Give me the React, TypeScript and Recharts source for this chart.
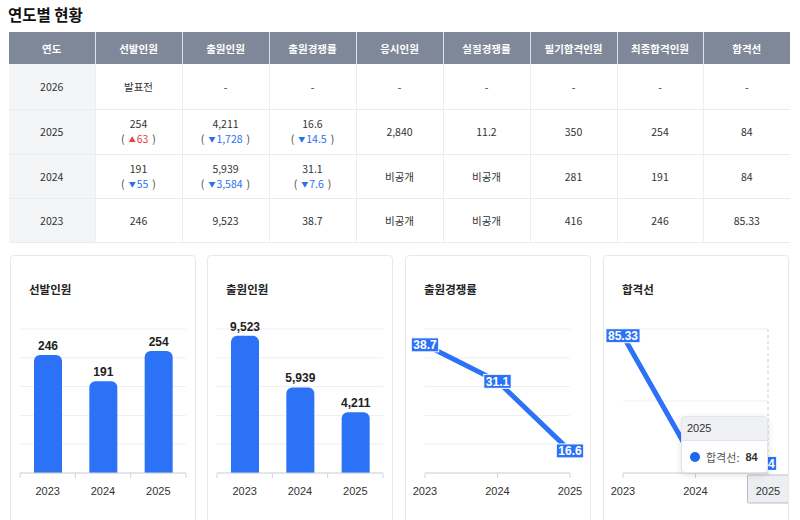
import {
  Bar,
  BarChart,
  CartesianGrid,
  LabelList,
  Line,
  LineChart,
  Tooltip,
  XAxis,
  YAxis,
} from "recharts";

// chart series (oldest -> newest)
const chartYears = ["2023", "2024", "2025"];
const selectedCounts = [246, 191, 254];
const applicantCounts = [9523, 5939, 4211];
const applicantRatios = [38.7, 31.1, 16.6];
const cutoffScores = [85.33, 84, 84];

const selectedTicks = [0, 60, 120, 180, 240, 300];
const applicantTicks = [0, 2000, 4000, 6000, 8000, 10000];
const ratioTicks = [12, 18, 24, 30, 36, 42];
const cutoffTicks = [83.9, 84.65, 85.4];

// table (newest -> oldest)
const tableHeaders = [
  "연도",
  "선발인원",
  "출원인원",
  "출원경쟁률",
  "응시인원",
  "실질경쟁률",
  "필기합격인원",
  "최종합격인원",
  "합격선",
];
const tableYears = ["2026", "2025", "2024", "2023"];
const tableSelected = ["발표전", "254", "191", "246"];
const tableSelectedDiff = [null, 63, -55, null];
const tableApplicants = ["-", "4,211", "5,939", "9,523"];
const tableApplicantsDiff = [null, -1728, -3584, null];
const tableRatio = ["-", "16.6", "31.1", "38.7"];
const tableRatioDiff = [null, -14.5, -7.6, null];
const tableExaminees = ["-", "2,840", "비공개", "비공개"];
const tableRealRatio = ["-", "11.2", "비공개", "비공개"];
const tableWrittenPass = ["-", "350", "281", "416"];
const tableFinalPass = ["-", "254", "191", "246"];
const tableCutoff = ["-", "84", "84", "85.33"];

const BLUE = "#2b72f6";
const UP = "#e8403c";
const DOWN = "#2a6ff0";
const AXIS = "#cfd3d9";
const GRID = "#eeeff1";
const KR = "'Noto Sans CJK KR', 'Noto Sans', sans-serif";
const NUM = "'Liberation Sans', Arial, 'Noto Sans CJK KR', sans-serif";

const CHART_W = 184;
const CHART_H = 260;
const TICK_SIZE = 5;
const TICK_MARGIN = 9;
const BAR_MARGIN = { top: 73, right: 9, bottom: 13, left: 9 };
const LINE_MARGIN = { top: 73, right: 20, bottom: 13, left: 19 };

const columnWidths = [86, 87, 87, 87, 87, 87, 87, 86, 87];
const rowHeights = [45, 45, 44, 44];

function Diff({ value }: { value: number | null }) {
  if (value === null) return null;
  const up = value > 0;
  return (
    <div style={{ lineHeight: "15px" }}>
      <span style={{ color: "#444" }}>(</span>
      <span style={{ color: up ? UP : DOWN, margin: "0 4px" }}>
        <span style={{ fontSize: 7, verticalAlign: 1, marginRight: 1 }}>{up ? "▲" : "▼"}</span>
        {Math.abs(value).toLocaleString("en-US")}
      </span>
      <span style={{ color: "#444" }}>)</span>
    </div>
  );
}

function Cell({ text, diff }: { text: string; diff?: number | null }) {
  return (
    <>
      <div style={{ lineHeight: "15px" }}>{text}</div>
      {diff !== undefined && diff !== null && <Diff value={diff} />}
    </>
  );
}

function StatsTable() {
  const th = (i: number) => ({
    background: "#7e8898",
    color: "#fff",
    fontWeight: 700,
    height: 32,
    padding: 0,
    borderRight: i < tableHeaders.length - 1 ? "1px solid rgba(255,255,255,0.75)" : "none",
  });
  const td = (i: number) => ({
    padding: 0,
    textAlign: "center" as const,
    background: i === 0 ? "#f4f5f7" : "#fff",
    borderBottom: "1px solid #e9ebee",
    borderRight: i < tableHeaders.length - 1 ? "1px solid #eceef1" : "none",
    color: "#333",
  });
  return (
    <table
      style={{
        position: "absolute",
        left: 9,
        top: 32,
        width: 781,
        borderCollapse: "collapse",
        tableLayout: "fixed",
        fontFamily: KR,
        fontSize: 10.5,
      }}
    >
      <colgroup>
        {columnWidths.map((w, i) => (
          <col key={i} style={{ width: w }} />
        ))}
      </colgroup>
      <thead>
        <tr>
          {tableHeaders.map((h, i) => (
            <th key={h} style={th(i)}>
              {h}
            </th>
          ))}
        </tr>
      </thead>
      <tbody>
        {tableYears.map((year, r) => {
          const cells = [
            { text: year },
            { text: tableSelected[r], diff: tableSelectedDiff[r] },
            { text: tableApplicants[r], diff: tableApplicantsDiff[r] },
            { text: tableRatio[r], diff: tableRatioDiff[r] },
            { text: tableExaminees[r] },
            { text: tableRealRatio[r] },
            { text: tableWrittenPass[r] },
            { text: tableFinalPass[r] },
            { text: tableCutoff[r] },
          ];
          return (
            <tr key={year} style={{ height: rowHeights[r] }}>
              {cells.map((c, i) => (
                <td key={i} style={td(i)}>
                  <Cell text={c.text} diff={c.diff} />
                </td>
              ))}
            </tr>
          );
        })}
      </tbody>
    </table>
  );
}

function cardStyle(left: number) {
  return {
    position: "absolute" as const,
    left,
    top: 255,
    width: 186,
    height: 280,
    boxSizing: "border-box" as const,
    border: "1px solid #e6e8eb",
    borderRadius: 4,
    background: "#fff",
  };
}

const cardTitle = {
  position: "absolute" as const,
  left: 18,
  top: 25,
  lineHeight: "16px",
  fontFamily: KR,
  fontSize: 11.5,
  fontWeight: 700,
  color: "#222",
  zIndex: 1,
};

// bar chart tick: label at band centre, tick marks on band edges
function BandTick(props: any) {
  const { x, y, payload, index } = props;
  const axisY = y - TICK_SIZE - TICK_MARGIN;
  const half = (CHART_W - BAR_MARGIN.left - BAR_MARGIN.right) / chartYears.length / 2;
  return (
    <g>
      <line x1={x - half} x2={x - half} y1={axisY} y2={axisY + TICK_SIZE} stroke={AXIS} />
      {index === chartYears.length - 1 && (
        <line x1={x + half} x2={x + half} y1={axisY} y2={axisY + TICK_SIZE} stroke={AXIS} />
      )}
      <text x={x} y={y} dy="0.71em" textAnchor="middle" fill="#333" fontSize={11} fontFamily={NUM}>
        {payload.value}
      </text>
    </g>
  );
}

function BarCard({
  left,
  title,
  values,
  ticks,
}: {
  left: number;
  title: string;
  values: number[];
  ticks: number[];
}) {
  const data = chartYears.map((year, i) => ({ year, value: values[i] }));
  return (
    <div style={cardStyle(left)}>
      <div style={cardTitle}>{title}</div>
      <BarChart width={CHART_W} height={CHART_H} data={data} margin={BAR_MARGIN}>
        <CartesianGrid vertical={false} stroke={GRID} />
        <YAxis hide domain={[ticks[0], ticks[ticks.length - 1]]} ticks={ticks} />
        <XAxis
          dataKey="year"
          interval={0}
          height={30}
          tickSize={TICK_SIZE}
          tickMargin={TICK_MARGIN}
          tickLine={false}
          axisLine={{ stroke: AXIS }}
          tick={<BandTick />}
        />
        <Bar dataKey="value" fill={BLUE} barSize={28} radius={[6, 6, 0, 0]} isAnimationActive={false}>
          <LabelList
            dataKey="value"
            position="top"
            offset={5}
            formatter={(v: any) => Number(v).toLocaleString("en-US")}
            fill="#222"
            fontSize={12}
            fontWeight={700}
            fontFamily={NUM}
          />
        </Bar>
      </BarChart>
    </div>
  );
}

function textWidth(text: string) {
  let w = 0;
  for (const ch of text) w += ch === "." || ch === "," ? 3.3 : 6.7;
  return w;
}

function BoxLabel(props: any) {
  const { x, y, value } = props;
  const text = String(value);
  const w = textWidth(text) + 4;
  return (
    <g>
      <rect x={x - w / 2} y={y - 7} width={w} height={14} fill={BLUE} stroke="#fff" strokeWidth={1} />
      <text
        x={x}
        y={y}
        dy="0.36em"
        textAnchor="middle"
        fill="#fff"
        fontSize={12}
        fontWeight={700}
        fontFamily={NUM}
      >
        {text}
      </text>
    </g>
  );
}

const cutoffActive = 2;

function PointTick(props: any) {
  const { x, y, payload, index, highlight } = props;
  const axisY = y - TICK_SIZE - TICK_MARGIN;
  const on = highlight && index === cutoffActive;
  return (
    <g>
      {on && (
        <rect
          x={x - 20.5}
          y={axisY + 2}
          width={41}
          height={28}
          fill="#eceef1"
          stroke="#b9bec6"
          strokeWidth={1}
          rx={1}
        />
      )}
      <text x={x} y={y} dy="0.71em" textAnchor="middle" fill="#333" fontSize={11} fontFamily={NUM}>
        {payload.value}
      </text>
    </g>
  );
}

function CutoffTooltip({ active, payload, label }: any) {
  if (!active || !payload || !payload.length) return null;
  const p = payload[0];
  return (
    <div
      style={{
        width: 87,
        boxSizing: "border-box",
        background: "#fff",
        border: "1px solid #e1e4e8",
        borderRadius: 4,
        boxShadow: "0 2px 6px rgba(0,0,0,0.12)",
        fontFamily: KR,
        fontSize: 11,
        color: "#333",
        overflow: "hidden",
      }}
    >
      <div
        style={{
          height: 23,
          lineHeight: "23px",
          padding: "0 5px",
          background: "#eef0f3",
          borderBottom: "1px solid #e1e4e8",
          fontFamily: NUM,
        }}
      >
        {label}
      </div>
      <div style={{ height: 31, display: "flex", alignItems: "center", paddingLeft: 8 }}>
        <span
          style={{
            width: 10,
            height: 10,
            borderRadius: 5,
            background: "#1f66f5",
            display: "inline-block",
            marginRight: 6,
          }}
        />
        <span style={{ color: "#555" }}>{p.name}:</span>
        <span style={{ fontWeight: 700, marginLeft: 6, fontFamily: NUM }}>{p.value}</span>
      </div>
    </div>
  );
}

function LineCard({
  left,
  title,
  name,
  values,
  ticks,
  withTooltip,
}: {
  left: number;
  title: string;
  name: string;
  values: number[];
  ticks: number[];
  withTooltip?: boolean;
}) {
  const data = chartYears.map((year, i) => ({ year, value: values[i] }));
  return (
    <div style={cardStyle(left)}>
      <div style={cardTitle}>{title}</div>
      <LineChart width={CHART_W} height={CHART_H} data={data} margin={LINE_MARGIN}>
        <CartesianGrid vertical={false} stroke={GRID} />
        <YAxis hide domain={[ticks[0], ticks[ticks.length - 1]]} ticks={ticks} />
        <XAxis
          dataKey="year"
          interval={0}
          height={30}
          tickSize={TICK_SIZE}
          tickMargin={TICK_MARGIN}
          tickLine={{ stroke: AXIS }}
          axisLine={{ stroke: AXIS }}
          tick={<PointTick highlight={withTooltip} />}
        />
        {withTooltip && (
          <Tooltip
            active
            defaultIndex={cutoffActive}
            position={{ x: 77, y: 160 }}
            cursor={{ stroke: "#c6cad0", strokeWidth: 1, strokeDasharray: "3 3" }}
            content={<CutoffTooltip />}
            isAnimationActive={false}
            wrapperStyle={{ zIndex: 5, outline: "none" }}
          />
        )}
        <Line
          dataKey="value"
          name={name}
          stroke={BLUE}
          strokeWidth={5}
          dot={false}
          activeDot={false}
          isAnimationActive={false}
        >
          <LabelList dataKey="value" content={<BoxLabel />} />
        </Line>
      </LineChart>
    </div>
  );
}

export default function App() {
  return (
    <div
      style={{
        position: "absolute",
        left: 0,
        top: 0,
        width: 800,
        height: 520,
        overflow: "hidden",
        background: "#fff",
      }}
    >
      <div
        style={{
          position: "absolute",
          left: 8,
          top: 4,
          lineHeight: "20px",
          fontFamily: KR,
          fontSize: 15.5,
          fontWeight: 700,
          color: "#111",
        }}
      >
        연도별 현황
      </div>
      <StatsTable />
      <BarCard left={10} title="선발인원" values={selectedCounts} ticks={selectedTicks} />
      <BarCard left={207} title="출원인원" values={applicantCounts} ticks={applicantTicks} />
      <LineCard left={405} title="출원경쟁률" name="출원경쟁률" values={applicantRatios} ticks={ratioTicks} />
      <LineCard
        left={603}
        title="합격선"
        name="합격선"
        values={cutoffScores}
        ticks={cutoffTicks}
        withTooltip
      />
    </div>
  );
}
